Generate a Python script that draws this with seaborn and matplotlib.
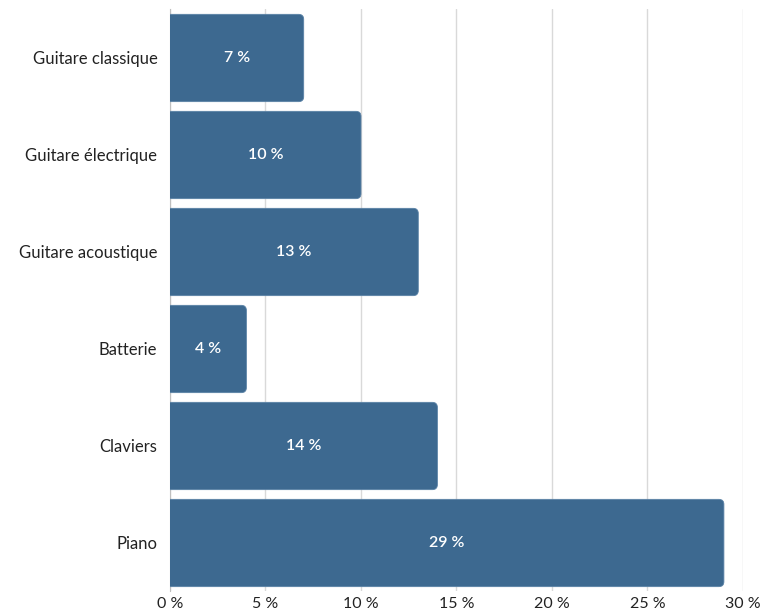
import matplotlib
matplotlib.use("Agg")
import matplotlib.pyplot as plt
import seaborn as sns
import pandas as pd
from matplotlib.patches import FancyBboxPatch

categories = ["Guitare classique", "Guitare électrique", "Guitare acoustique",
              "Batterie", "Claviers", "Piano"]
values = [7, 10, 13, 4, 14, 29]
xticks = [0, 5, 10, 15, 20, 25, 30]
xtick_labels = [f"{t} %" for t in xticks]

bar_color = "#3d6990"

sns.set_style("white")
plt.rcParams["font.family"] = ["Lato", "DejaVu Sans"]

df = pd.DataFrame({"instrument": categories, "part": values})

fig = plt.figure(figsize=(7.64, 6.12), dpi=100)
ax = fig.add_axes([0.2225, 0.0335, 0.75, 0.951])

sns.barplot(data=df, x="part", y="instrument", color=bar_color, width=0.9,
            saturation=1, ax=ax)

ax.set_xlim(0, 30)
ax.set_ylim(len(categories) - 0.5, -0.5)

# swap plain bars for rounded ones (left side hidden behind the axis)
px_x = 573 / 30
px_y = 97
r = 5 / px_x
for p in list(ax.patches):
    y, h, w = p.get_y(), p.get_height(), p.get_width()
    p.remove()
    fb = FancyBboxPatch((-1, y), w + 1, h,
                        boxstyle=f"round,pad=0,rounding_size={r}",
                        mutation_aspect=px_x / px_y,
                        facecolor=bar_color, edgecolor="#5a82a6", linewidth=0.6,
                        zorder=3)
    ax.add_patch(fb)
    ax.text(w / 2, y + h / 2, f"{w:.0f} %", color="white", ha="center",
            va="center", fontsize=11.5, fontweight="semibold", zorder=4)

ax.set_xticks(xticks)
ax.set_xticklabels(xtick_labels)
ax.xaxis.grid(True, color="#d9d9d9", linewidth=1)
ax.set_axisbelow(True)
for s in ["top", "right", "bottom"]:
    ax.spines[s].set_visible(False)
ax.spines["left"].set_color("#bfbfbf")
ax.set_xlabel("")
ax.set_ylabel("")
ax.tick_params(axis="both", length=0, colors="#222222")
ax.tick_params(axis="y", pad=9, labelsize=12)
ax.tick_params(axis="x", pad=4, labelsize=11.5)

fig.savefig("out.png", dpi=100)
